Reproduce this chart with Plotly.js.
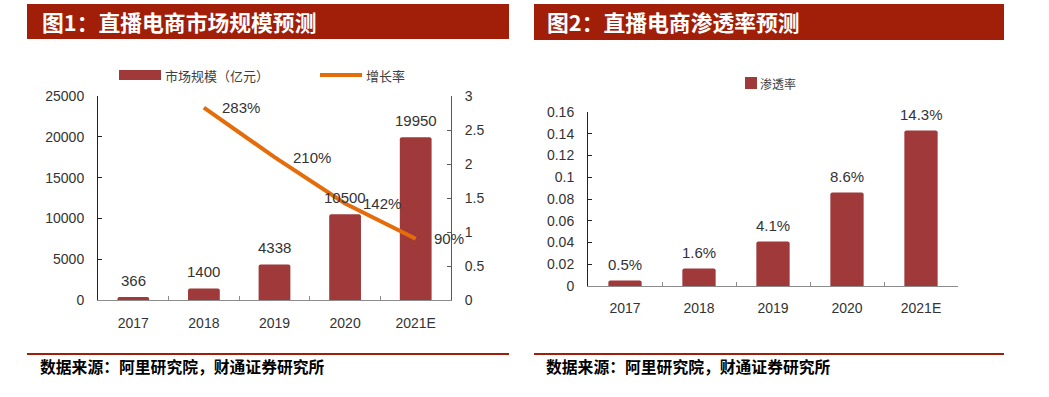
<!DOCTYPE html>
<html>
<head>
<meta charset="utf-8">
<script src="https://cdn.plot.ly/plotly-3.0.1.min.js"></script>
<style>html,body{margin:0;padding:0;background:#fff;}#chart{width:1049px;height:397px;}</style>
</head>
<body>
<div id="chart"></div>
<script>
// ---- data ----
const categories = ['2017', '2018', '2019', '2020', '2021E'];
const marketSize = [366, 1400, 4338, 10500, 19950];
const marketLabels = ['366', '1400', '4338', '10500', '19950'];
const growthCats = ['2018', '2019', '2020', '2021E'];
const growthRate = [2.83, 2.10, 1.42, 0.90];
const growthLabels = ['283%', '210%', '142%', '90%'];
const penetration = [0.005, 0.016, 0.041, 0.086, 0.143];
const penetrationLabels = ['0.5%', '1.6%', '4.1%', '8.6%', '14.3%'];
const title1 = '图1：直播电商市场规模预测';
const title2 = '图2：直播电商渗透率预测';
const sourceText = '数据来源：阿里研究院，财通证券研究所';
const legendMarket = '市场规模（亿元）';
const legendGrowth = '增长率';
const legendPen = '渗透率';

// ---- style ----
const W = 1049, H = 397;
const px = x => x / W;
const py = y => 1 - y / H;
const RED = '#A11E08';
const BAR = '#A03A3A';
const ORANGE = '#E46C0A';
const NUMFONT = 'Liberation Sans, Arial, sans-serif';
const CJK = 'Noto Sans CJK SC, sans-serif';
const TXT = '#333333';
const catIndex = c => categories.indexOf(c);

const traces = [
  {type: 'bar', x: categories, y: marketSize, xaxis: 'x', yaxis: 'y',
   marker: {color: BAR}, showlegend: false, hoverinfo: 'skip'},
  {type: 'scatter', mode: 'lines', x: growthCats, y: growthRate, xaxis: 'x', yaxis: 'y2',
   line: {color: ORANGE, width: 4}, showlegend: false, hoverinfo: 'skip'},
  {type: 'bar', x: categories, y: penetration, xaxis: 'x2', yaxis: 'y3',
   marker: {color: BAR}, showlegend: false, hoverinfo: 'skip'}
];

const annotations = [];
categories.forEach((c, i) => annotations.push({
  x: catIndex(c), y: marketSize[i], xref: 'x', yref: 'y', text: marketLabels[i], showarrow: false,
  yanchor: 'middle', yshift: 17, font: {family: NUMFONT, size: 15, color: TXT}
}));
growthCats.forEach((c, i) => annotations.push({
  x: catIndex(c), y: growthRate[i], xref: 'x', yref: 'y2', text: growthLabels[i], showarrow: false,
  xanchor: 'left', yanchor: 'middle', xshift: 16, font: {family: NUMFONT, size: 15, color: TXT}
}));
categories.forEach((c, i) => annotations.push({
  x: catIndex(c), y: penetration[i], xref: 'x2', yref: 'y3', text: penetrationLabels[i], showarrow: false,
  yanchor: 'middle', yshift: 16, font: {family: NUMFONT, size: 15, color: TXT}
}));

// titles, sources, legends
annotations.push(
  {xref: 'paper', yref: 'paper', x: px(40), y: py(22), xanchor: 'left', yanchor: 'middle',
   text: '<b>' + title1 + '</b>', showarrow: false, font: {family: CJK, size: 21.8, color: '#ffffff'}},
  {xref: 'paper', yref: 'paper', x: px(545), y: py(22), xanchor: 'left', yanchor: 'middle',
   text: '<b>' + title2 + '</b>', showarrow: false, font: {family: CJK, size: 21.8, color: '#ffffff'}},
  {xref: 'paper', yref: 'paper', x: px(38), y: py(366), xanchor: 'left', yanchor: 'middle',
   text: '<b>' + sourceText + '</b>', showarrow: false, font: {family: CJK, size: 15.8, color: '#000000'}},
  {xref: 'paper', yref: 'paper', x: px(544), y: py(366), xanchor: 'left', yanchor: 'middle',
   text: '<b>' + sourceText + '</b>', showarrow: false, font: {family: CJK, size: 15.8, color: '#000000'}},
  {xref: 'paper', yref: 'paper', x: px(163), y: py(75), xanchor: 'left', yanchor: 'middle',
   text: legendMarket, showarrow: false, font: {family: CJK, size: 13, color: '#404040'}},
  {xref: 'paper', yref: 'paper', x: px(364), y: py(75), xanchor: 'left', yanchor: 'middle',
   text: legendGrowth, showarrow: false, font: {family: CJK, size: 13, color: '#404040'}},
  {xref: 'paper', yref: 'paper', x: px(758), y: py(83), xanchor: 'left', yanchor: 'middle',
   text: legendPen, showarrow: false, font: {family: CJK, size: 12, color: '#404040'}}
);

const shapes = [
  {type: 'rect', xref: 'paper', yref: 'paper', x0: px(27), x1: px(509), y0: py(39), y1: py(4),
   fillcolor: RED, line: {width: 0}, layer: 'below'},
  {type: 'rect', xref: 'paper', yref: 'paper', x0: px(534), x1: px(1004), y0: py(40), y1: py(4),
   fillcolor: RED, line: {width: 0}, layer: 'below'},
  {type: 'line', xref: 'paper', yref: 'paper', x0: px(27), x1: px(509), y0: py(354), y1: py(354),
   line: {color: RED, width: 2}},
  {type: 'line', xref: 'paper', yref: 'paper', x0: px(534), x1: px(1004), y0: py(354), y1: py(354),
   line: {color: RED, width: 2}},
  // legend swatches
  {type: 'rect', xref: 'paper', yref: 'paper', x0: px(119), x1: px(161), y0: py(80), y1: py(70),
   fillcolor: BAR, line: {width: 0}},
  {type: 'line', xref: 'paper', yref: 'paper', x0: px(320), x1: px(362), y0: py(75), y1: py(75),
   line: {color: ORANGE, width: 4}},
  {type: 'rect', xref: 'paper', yref: 'paper', x0: px(745), x1: px(757), y0: py(89), y1: py(77),
   fillcolor: BAR, line: {width: 0}}
];

const tickFont = {family: NUMFONT, size: 14, color: TXT};
const layout = {
  width: W, height: H,
  margin: {l: 0, r: 0, t: 0, b: 0, pad: 0},
  paper_bgcolor: '#ffffff', plot_bgcolor: 'rgba(0,0,0,0)',
  showlegend: false, bargap: 0.55, barcornerradius: 2, hovermode: false,
  xaxis: {domain: [px(98), px(451)], anchor: 'y', type: 'category', range: [-0.5, 4.5],
    autorange: false, showgrid: false,
    showline: true, linecolor: '#8c8c8c', linewidth: 1, ticks: 'inside', ticklen: 4,
    tickcolor: '#8c8c8c', tickson: 'boundaries', tickfont: tickFont, ticklabelstandoff: 10,
    zeroline: false},
  yaxis: {domain: [py(300), py(96)], anchor: 'x', range: [0, 25000], autorange: false,
    dtick: 5000, tickformat: 'd',
    showgrid: false, zeroline: false, showline: true, linecolor: '#222', linewidth: 1,
    ticks: 'inside', ticklen: 4, tickcolor: '#222', tickfont: tickFont, ticklabelstandoff: 10},
  yaxis2: {overlaying: 'y', side: 'right', anchor: 'x', range: [0, 3], autorange: false, dtick: 0.5,
    showgrid: false, zeroline: false, showline: true, linecolor: '#595959', linewidth: 1,
    ticks: 'inside', ticklen: 4, tickcolor: '#595959', tickfont: tickFont, ticklabelstandoff: 10},
  xaxis2: {domain: [px(588), px(958)], anchor: 'y3', type: 'category', range: [-0.5, 4.5],
    autorange: false, showgrid: false,
    showline: true, linecolor: '#8c8c8c', linewidth: 1, ticks: 'inside', ticklen: 4,
    tickcolor: '#8c8c8c', tickson: 'boundaries', tickfont: tickFont, ticklabelstandoff: 9,
    zeroline: false},
  yaxis3: {domain: [py(286), py(112)], anchor: 'x2', range: [0, 0.16], autorange: false, dtick: 0.02,
    showgrid: false, zeroline: false, showline: true, linecolor: '#222', linewidth: 1,
    ticks: 'inside', ticklen: 4, tickcolor: '#222', tickfont: tickFont, ticklabelstandoff: 10},
  annotations: annotations,
  shapes: shapes
};

Plotly.newPlot('chart', traces, layout, {staticPlot: true, displayModeBar: false});
</script>
</body>
</html>
